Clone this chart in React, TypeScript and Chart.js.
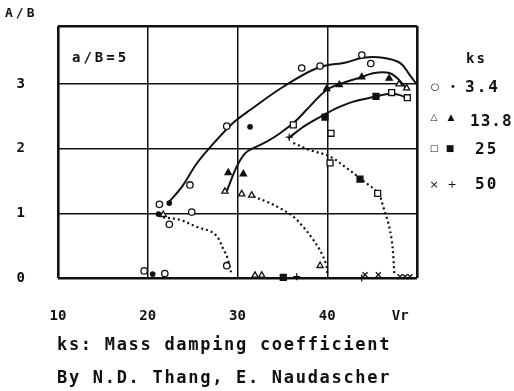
import React, { useEffect, useRef } from "react";
import { Chart, registerables } from "chart.js";

Chart.register(...registerables);

// Axis ticks
const xTickValues = [10, 20, 30, 40, 50];
const xTickLabels = ["10", "20", "30", "40", "Vr    "];
const yTickValues = [0, 1, 2, 3];
const yTickLabels = ["0", "1", "2", "3"];

// ks = 3.4
const ks34Open: [number, number][] = [
  [21.3, 1.14], [24.9, 1.02], [22.4, 0.83], [19.6, 0.11], [21.9, 0.07], [28.8, 0.19],
  [24.7, 1.44], [28.8, 2.35], [37.15, 3.25], [39.2, 3.28], [43.85, 3.45], [44.85, 3.32],
];
const ks34Filled: [number, number][] = [
  [20.55, 0.06], [21.2, 0.99], [22.4, 1.16], [31.4, 2.34],
];
const ks34Curve: [number, number][] = [
  [22.26, 1.16], [23.8, 1.41], [25.5, 1.78], [27.7, 2.14], [29.5, 2.4], [31.4, 2.6],
  [35.1, 2.96], [38.9, 3.25], [42.2, 3.34], [44.0, 3.41], [46.2, 3.41], [48.1, 3.33],
  [49.2, 3.14], [50.0, 2.99],
];
const ks34Decay: [number, number][] = [
  [21.7, 0.94], [23.6, 0.9], [25.5, 0.79], [27.16, 0.71], [27.83, 0.62], [28.38, 0.46],
  [28.83, 0.33], [29.28, 0.09],
];

// ks = 13.8
const ks138Open: [number, number][] = [
  [28.6, 1.34], [30.47, 1.3], [31.58, 1.28], [31.95, 0.04], [32.7, 0.04], [39.2, 0.19],
  [21.73, 0.98], [48.0, 3.0], [48.85, 2.94],
];
const ks138Filled: [number, number][] = [
  [28.97, 1.63], [30.65, 1.61], [46.9, 3.09], [39.94, 2.93], [41.34, 2.99], [43.84, 3.11],
];
const ks138Curve: [number, number][] = [
  [28.8, 1.34], [29.9, 1.72], [30.84, 1.93], [31.76, 2.01], [33.25, 2.11], [34.74, 2.24],
  [36.63, 2.45], [38.08, 2.66], [39.94, 2.91], [41.98, 3.03], [43.65, 3.1], [45.1, 3.17],
  [46.99, 3.17], [48.11, 3.05], [48.89, 2.91],
];
const ks138Decay: [number, number][] = [
  [31.76, 1.26], [33.25, 1.18], [34.74, 1.08], [36.22, 0.95], [37.33, 0.79], [38.45, 0.59],
  [39.38, 0.38], [39.94, 0.17], [40.0, 0.05],
];

// ks = 25
const ks25Open: [number, number][] = [
  [36.22, 2.37], [40.42, 2.24], [40.31, 1.78], [45.62, 1.31], [47.18, 2.87], [48.92, 2.79],
];
const ks25Filled: [number, number][] = [
  [39.75, 2.49], [45.43, 2.81], [43.65, 1.53], [35.1, 0.01],
];
const ks25Curve: [number, number][] = [
  [35.66, 2.16], [37.33, 2.34], [39.56, 2.52], [41.05, 2.63], [42.9, 2.73], [45.13, 2.8],
  [46.99, 2.85], [48.11, 2.83], [49.03, 2.77],
];
const ks25Decay: [number, number][] = [
  [36.22, 2.09], [38.08, 1.98], [40.31, 1.88], [42.17, 1.7], [43.84, 1.52], [45.69, 1.31],
  [46.24, 1.1], [46.8, 0.85], [47.18, 0.59], [47.36, 0.33], [47.47, 0.07],
];

// ks = 50
const ks50Cross: [number, number][] = [
  [44.21, 0.05], [45.69, 0.05], [48.11, 0.02], [48.66, 0.02], [49.22, 0.02],
];
const ks50Plus: [number, number][] = [
  [36.6, 0.02], [43.84, 0.0], [35.77, 2.18],
];

const toXY = (arr: [number, number][]) => arr.map(([x, y]) => ({ x, y }));

const INK = "#111";

function lineDs(arr: [number, number][], dashed: boolean) {
  return {
    data: toXY(arr),
    showLine: true,
    borderColor: INK,
    borderWidth: dashed ? 2.2 : 2,
    borderDash: dashed ? [2, 3] : [],
    pointRadius: 0,
    tension: 0.35,
    fill: false,
    order: 2,
  };
}

function ptDs(arr: [number, number][], style: string, filled: boolean, radius: number) {
  return {
    data: toXY(arr),
    showLine: false,
    pointStyle: style,
    pointRadius: radius,
    pointBorderWidth: 1.3,
    pointBorderColor: INK,
    pointBackgroundColor: filled ? INK : "#fff",
    order: 1,
  };
}

const mono = '"DejaVu Sans Mono", "Liberation Mono", monospace';

function Txt(props: { left: number; top: number; size: number; spacing?: number; children: React.ReactNode }) {
  return (
    <div
      style={{
        position: "absolute",
        left: props.left,
        top: props.top,
        fontFamily: mono,
        fontWeight: "bold",
        fontSize: props.size,
        lineHeight: 1,
        letterSpacing: props.spacing ?? 0,
        whiteSpace: "pre",
        color: INK,
      }}
    >
      {props.children}
    </div>
  );
}

function Mark(props: { cx: number; cy: number; size: number; ch: string }) {
  return (
    <div
      style={{
        position: "absolute",
        left: props.cx,
        top: props.cy,
        transform: "translate(-50%, -50%)",
        fontFamily: '"DejaVu Sans", sans-serif',
        fontSize: props.size,
        lineHeight: 1,
        color: INK,
      }}
    >
      {props.ch}
    </div>
  );
}

export default function App() {
  const ref = useRef<HTMLCanvasElement>(null);

  useEffect(() => {
    if (!ref.current) return;
    const chart = new Chart(ref.current, {
      type: "scatter",
      data: {
        datasets: [
          lineDs(ks34Curve, false),
          lineDs(ks34Decay, true),
          lineDs(ks138Curve, false),
          lineDs(ks138Decay, true),
          lineDs(ks25Curve, false),
          lineDs(ks25Decay, true),
          ptDs(ks34Open, "circle", false, 3.2),
          ptDs(ks34Filled, "circle", true, 2.2),
          ptDs(ks138Open, "triangle", false, 3.6),
          ptDs(ks138Filled, "triangle", true, 3.6),
          ptDs(ks25Open, "rect", false, 4.2),
          ptDs(ks25Filled, "rect", true, 4.2),
          ptDs(ks50Cross, "crossRot", false, 3.5),
          ptDs(ks50Plus, "cross", false, 3.5),
        ] as any,
      },
      options: {
        animation: false,
        responsive: false,
        events: [],
        clip: false as any,
        layout: { padding: { top: 26, right: 97, left: 0, bottom: 0 } },
        plugins: { legend: { display: false }, tooltip: { enabled: false } },
        scales: {
          x: {
            type: "linear",
            min: 10,
            max: 50,
            afterBuildTicks: (s: any) => {
              s.ticks = xTickValues.map((v) => ({ value: v }));
            },
            afterFit: (s: any) => {
              s.height = 113;
              s.paddingLeft = 0;
              s.paddingRight = 0;
            },
            ticks: {
              autoSkip: false,
              maxRotation: 0,
              padding: 30,
              color: INK,
              font: { family: mono, weight: "bold", size: 14 },
              callback: (v: any) => {
                const i = xTickValues.indexOf(Number(v));
                return i >= 0 ? xTickLabels[i] : "";
              },
            },
            grid: {
              color: INK,
              drawTicks: false,
              lineWidth: (c: any) => (c.tick && (c.tick.value === 10 || c.tick.value === 50) ? 2.6 : 1.5),
            },
            border: { display: false },
          },
          y: {
            type: "linear",
            min: 0,
            max: 3.9,
            afterBuildTicks: (s: any) => {
              s.ticks = [...yTickValues, 3.9].map((v) => ({ value: v }));
            },
            afterFit: (s: any) => {
              s.width = 58;
              s.paddingTop = 0;
              s.paddingBottom = 0;
            },
            ticks: {
              autoSkip: false,
              padding: 33,
              color: INK,
              font: { family: mono, weight: "bold", size: 14 },
              callback: (v: any) => {
                const i = yTickValues.indexOf(Number(v));
                return i >= 0 ? yTickLabels[i] : "";
              },
            },
            grid: {
              color: INK,
              drawTicks: false,
              lineWidth: (c: any) => (c.tick && (c.tick.value === 0 || c.tick.value === 3.9) ? 2.6 : 1.5),
            },
            border: { display: false },
          },
        },
      } as any,
    });
    return () => chart.destroy();
  }, []);

  return (
    <div style={{ position: "absolute", left: 0, top: 0, width: 514, height: 391, background: "#fff" }}>
      <canvas ref={ref} width={514} height={391} style={{ display: "block" }} />
      <Txt left={5} top={6} size={13} spacing={3}>A/B</Txt>
      <Txt left={72} top={50} size={14} spacing={3}>a/B=5</Txt>
      <Txt left={466} top={51} size={14} spacing={2}>ks</Txt>
      <Mark cx={435} cy={87} size={10} ch="○" />
      <Mark cx={453} cy={87} size={10} ch="•" />
      <Txt left={465} top={79} size={16} spacing={2}>3.4</Txt>
      <Mark cx={434} cy={117} size={9} ch="△" />
      <Mark cx={451} cy={117} size={9} ch="▲" />
      <Txt left={470} top={113} size={16} spacing={1}>13.8</Txt>
      <Mark cx={434} cy={148} size={9} ch="□" />
      <Mark cx={450} cy={148} size={9} ch="■" />
      <Txt left={475} top={141} size={16} spacing={2}>25</Txt>
      <Mark cx={434} cy={184} size={11} ch="×" />
      <Mark cx={452} cy={184} size={11} ch="+" />
      <Txt left={475} top={176} size={16} spacing={2}>50</Txt>
      <Txt left={57} top={336} size={17} spacing={1.7}>ks: Mass damping coefficient</Txt>
      <Txt left={57} top={369} size={17} spacing={1.7}>By N.D. Thang, E. Naudascher</Txt>
    </div>
  );
}
